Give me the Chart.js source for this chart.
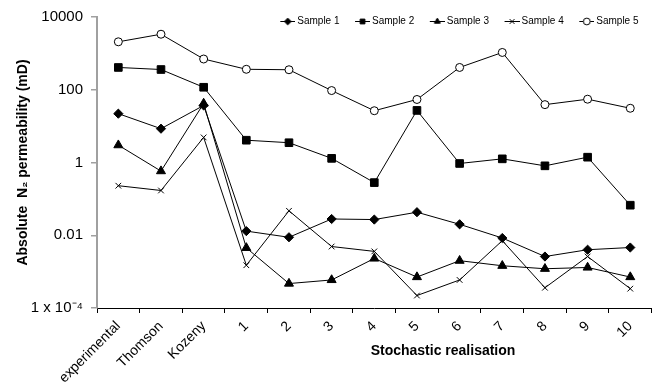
<!DOCTYPE html>
<html>
<head>
<meta charset="utf-8">
<script src="https://cdn.jsdelivr.net/npm/chart.js@4/dist/chart.umd.min.js"></script>
<style>
  body { margin: 0; background: #fff; }
  canvas { display: block; }
</style>
</head>
<body>
<canvas id="myChart" width="658" height="389"></canvas>
<script>
'use strict';
const categories = ['experimental', 'Thomson', 'Kozeny', '1', '2', '3', '4', '5', '6', '7', '8', '9', '10'];
const sample1 = [22, 8.5, 37, 0.013, 0.0088, 0.028, 0.027, 0.043, 0.020, 0.0084, 0.0026, 0.0040, 0.0046];
const sample2 = [410, 360, 117, 4.1, 3.5, 1.3, 0.28, 27, 0.94, 1.26, 0.81, 1.4, 0.067];
const sample3 = [3.0, 0.58, 42, 0.0045, 0.00047, 0.00059, 0.0023, 0.00071, 0.0020, 0.00145, 0.0012, 0.0013, 0.00071];
const sample4 = [0.23, 0.17, 4.9, 0.0015, 0.047, 0.0049, 0.0036, 0.00022, 0.00059, 0.0071, 0.00036, 0.0026, 0.00034];
const sample5 = [2080, 3360, 700, 365, 355, 95, 26.5, 54, 410, 1060, 39, 55, 31];
const yTicks = [1e-4, 0.01, 1, 100, 10000];
const yTickLabels = ['1 x 10\u207B\u2074', '0.01', '1', '100', '10000'];

const FONT = "'Liberation Sans', Arial, sans-serif";

// line + marker picture for the legend; it is wider than the legend box
// so the short line ends right next to the text like in the reference
function legendIcon(style, fill) {
  const c = document.createElement('canvas');
  c.width = 31;
  c.height = 10;
  const g = c.getContext('2d');
  g.strokeStyle = '#000';
  g.lineWidth = 1;
  g.beginPath();
  g.moveTo(16, 5.5);
  g.lineTo(31, 5.5);
  g.stroke();
  g.fillStyle = fill;
  Chart.helpers.drawPoint(g, {pointStyle: style, radius: 3.4, rotation: 0, borderWidth: 1}, 23.5, 5.5);
  return c;
}

function series(label, data, style, fill, radius) {
  return {
    label: label,
    data: data,
    borderColor: '#000',
    borderWidth: 1,
    pointStyle: style,
    pointRadius: radius,
    pointBackgroundColor: fill,
    pointBorderColor: '#000',
    pointBorderWidth: 1,
    tension: 0,
    icon: legendIcon(style, fill)
  };
}

const datasets = [
  series('Sample 1', sample1, 'rectRot', '#000', 4.6),
  series('Sample 2', sample2, 'rect', '#000', 5.4),
  series('Sample 3', sample3, 'triangle', '#000', 5.2),
  series('Sample 4', sample4, 'crossRot', '#000', 4),
  series('Sample 5', sample5, 'circle', '#fff', 4)
];

// the legend sits inside the plot in the reference, so move it after layout
const legendNudge = {
  id: 'legendNudge',
  afterLayout(chart) {
    const lg = chart.legend;
    lg.top += 19;
    lg.bottom += 19;
    lg.left -= 13;
    lg.right -= 13;
  }
};

const xTitle = {
  id: 'xTitle',
  afterDraw(chart) {
    const ctx = chart.ctx;
    ctx.save();
    ctx.font = 'bold 14px ' + FONT;
    ctx.fillStyle = '#000';
    ctx.textAlign = 'center';
    ctx.textBaseline = 'middle';
    ctx.fillText('Stochastic realisation', chart.chartArea.left + 346, 351);
    ctx.restore();
  }
};

const ctx = document.getElementById('myChart').getContext('2d');
const chart = new Chart(ctx, {
  type: 'line',
  data: {
    labels: categories,
    datasets: datasets
  },
  options: {
    responsive: false,
    animation: false,
    layout: {padding: {left: 0, right: 4, top: -7, bottom: 0}},
    plugins: {
      tooltip: {enabled: false},
      legend: {
        position: 'top',
        align: 'end',
        labels: {
          usePointStyle: true,
          pointStyleWidth: 25,
          padding: 2.5,
          color: '#000',
          font: {family: FONT, size: 10},
          generateLabels(ch) {
            return ch.data.datasets.map((ds, i) => ({
              text: ds.label,
              pointStyle: ds.icon,
              fillStyle: '#000',
              strokeStyle: '#000',
              lineWidth: 0,
              hidden: false,
              datasetIndex: i
            }));
          }
        }
      }
    },
    scales: {
      x: {
        type: 'category',
        offset: true,
        afterFit(scale) { scale.height = 81; },
        grid: {display: true, offset: true, drawOnChartArea: false, tickLength: 5, color: '#000'},
        border: {color: '#000', width: 1},
        ticks: {
          autoSkip: false,
          minRotation: 45,
          maxRotation: 45,
          padding: 5,
          color: '#000',
          font: {family: FONT, size: 14}
        }
      },
      y: {
        type: 'logarithmic',
        min: 1e-4,
        max: 10000,
        afterFit(scale) { scale.width = 97; },
        afterBuildTicks(scale) {
          scale.ticks = yTicks.map(v => ({value: v}));
        },
        grid: {display: true, drawOnChartArea: false, tickLength: 6, color: '#a0a0a0', lineWidth: 1.5},
        border: {color: '#a0a0a0', width: 2},
        ticks: {
          padding: 8,
          color: '#000',
          font: {family: FONT, size: 15},
          callback(v) {
            const i = yTicks.indexOf(v);
            return i >= 0 ? yTickLabels[i] : '';
          }
        },
        title: {
          display: true,
          text: 'Absolute  N\u2082 permeability (mD)',
          color: '#000',
          font: {family: FONT, size: 14, weight: 'bold'},
          padding: {top: 15, bottom: 4}
        }
      }
    }
  },
  plugins: [legendNudge, xTitle]
});
</script>
</body>
</html>
